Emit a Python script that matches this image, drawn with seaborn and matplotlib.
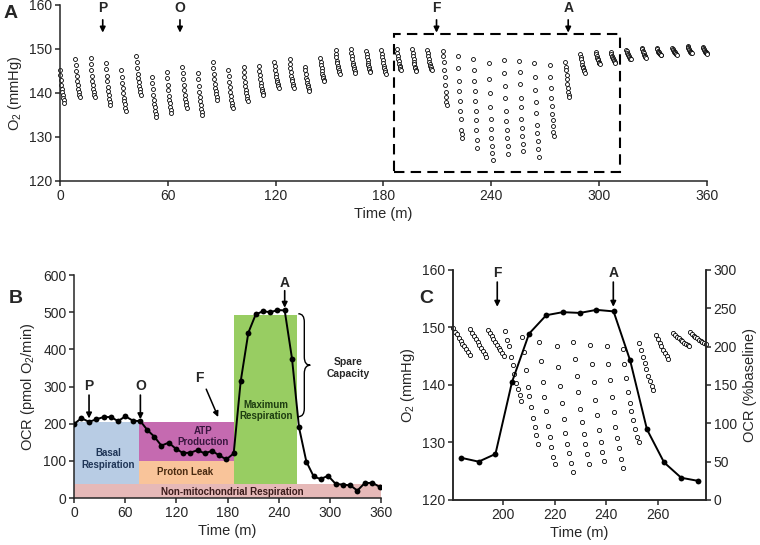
import matplotlib
matplotlib.use("Agg")
import matplotlib.pyplot as plt
from matplotlib.patches import Rectangle, PathPatch
from matplotlib.path import Path
import seaborn as sns
import pandas as pd

# ---------------- Panel A: O2 trace, one list per measurement cycle ----------------
a_cycle_start = [0.0, 8.5, 17.0, 25.6, 34.1, 42.6, 51.1, 59.6, 68.2, 76.7, 85.2,
                 93.7, 102.2, 110.8, 119.3, 127.8, 136.3, 144.8, 153.4, 161.9, 170.4,
                 178.9, 187.4, 196.0, 204.5, 213.0, 221.5, 230.0, 238.6, 247.1, 255.6,
                 264.1, 272.6, 281.2, 289.7, 298.2, 306.7, 315.2, 323.8, 332.3, 340.8,
                 349.3, 357.8]
a_offsets = [0, 0.25, 0.5, 0.8, 1.05, 1.3, 1.6, 1.85, 2.1, 2.4]
a_cycles = [
    [145.2, 144.0, 142.9, 141.9, 141.0, 140.2, 139.5, 138.9, 138.3, 137.8],
    [147.7, 146.3, 145.0, 143.8, 142.7, 141.8, 141.0, 140.3, 139.6, 139.0],
    [147.9, 146.5, 145.1, 143.9, 142.8, 141.8, 141.0, 140.3, 139.6, 139.0],
    [146.9, 145.4, 143.9, 142.6, 141.4, 140.4, 139.5, 138.7, 138.0, 137.3],
    [145.2, 143.7, 142.3, 141.1, 140.0, 138.9, 138.1, 137.4, 136.6, 136.0],
    [148.5, 147.1, 145.7, 144.4, 143.4, 142.4, 141.6, 140.8, 140.1, 139.5],
    [143.7, 142.2, 140.9, 139.6, 138.5, 137.5, 136.7, 136.0, 135.2, 134.6],
    [144.8, 143.3, 141.9, 140.6, 139.4, 138.4, 137.6, 136.8, 136.1, 135.4],
    [146.0, 144.5, 143.1, 141.7, 140.6, 139.5, 138.7, 137.9, 137.2, 136.5],
    [144.6, 143.1, 141.6, 140.3, 139.1, 138.1, 137.2, 136.4, 135.7, 135.0],
    [147.1, 145.7, 144.4, 143.2, 142.1, 141.2, 140.4, 139.7, 139.0, 138.4],
    [145.2, 143.8, 142.5, 141.3, 140.2, 139.3, 138.5, 137.8, 137.1, 136.5],
    [146.0, 144.8, 143.6, 142.5, 141.6, 140.7, 140.0, 139.4, 138.7, 138.2],
    [146.1, 145.0, 144.1, 143.1, 142.3, 141.6, 141.0, 140.5, 140.0, 139.5],
    [147.1, 146.1, 145.2, 144.4, 143.7, 143.0, 142.5, 142.0, 141.5, 141.1],
    [147.7, 146.6, 145.7, 144.7, 143.9, 143.2, 142.6, 142.1, 141.6, 141.1],
    [146.0, 145.1, 144.3, 143.5, 142.9, 142.3, 141.8, 141.3, 140.9, 140.5],
    [148.0, 147.1, 146.3, 145.6, 144.9, 144.3, 143.8, 143.4, 143.0, 142.6],
    [149.8, 148.9, 148.1, 147.3, 146.7, 146.1, 145.6, 145.1, 144.7, 144.3],
    [150.0, 149.1, 148.3, 147.6, 146.9, 146.3, 145.8, 145.4, 145.0, 144.6],
    [149.6, 148.8, 148.1, 147.4, 146.8, 146.3, 145.8, 145.4, 145.0, 144.7],
    [149.8, 148.9, 148.1, 147.4, 146.7, 146.1, 145.6, 145.2, 144.8, 144.4],
    [149.9, 149.1, 148.4, 147.7, 147.2, 146.6, 146.2, 145.8, 145.4, 145.1],
    [149.9, 149.1, 148.4, 147.7, 147.1, 146.5, 146.0, 145.6, 145.2, 144.9],
    [149.8, 149.0, 148.3, 147.7, 147.1, 146.6, 146.2, 145.8, 145.4, 145.1],
    [149.6, 148.3, 147.1, 145.2, 143.7, 141.8, 140.3, 139.0, 138.0, 137.3],
    [148.4, 145.6, 142.6, 140.5, 138.2, 136.0, 134.0, 131.6, 130.7, 129.7],
    [147.7, 145.2, 142.7, 140.5, 138.2, 136.0, 133.9, 131.6, 129.3, 127.4],
    [146.9, 143.1, 139.9, 136.7, 134.0, 131.8, 129.8, 128.0, 126.4, 124.8],
    [147.5, 144.6, 141.6, 138.9, 135.8, 133.6, 131.6, 129.7, 128.0, 126.1],
    [147.3, 144.7, 142.0, 138.9, 136.7, 134.0, 132.0, 130.1, 128.3, 126.7],
    [146.9, 143.7, 140.7, 137.9, 135.4, 132.7, 130.8, 129.1, 127.3, 125.5],
    [146.4, 143.7, 141.2, 138.8, 137.0, 135.2, 133.9, 132.5, 131.2, 130.1],
    [147.1, 146.0, 145.1, 144.1, 143.1, 142.0, 141.1, 140.3, 139.5, 139.0],
    [148.9, 148.2, 147.6, 147.0, 146.4, 146.0, 145.6, 145.2, 144.9, 144.6],
    [149.2, 148.8, 148.4, 148.0, 147.7, 147.4, 147.1, 146.9, 146.7, 146.5],
    [149.3, 148.9, 148.5, 148.2, 147.9, 147.6, 147.4, 147.2, 147.0, 146.8],
    [149.8, 149.5, 149.1, 148.9, 148.6, 148.4, 148.2, 148.0, 147.8, 147.7],
    [150.3, 149.9, 149.6, 149.3, 149.0, 148.7, 148.5, 148.3, 148.2, 148.0],
    [150.1, 149.9, 149.6, 149.4, 149.2, 149.1, 148.9, 148.8, 148.7, 148.6],
    [150.3, 150.0, 149.8, 149.6, 149.4, 149.2, 149.1, 148.9, 148.8, 148.7],
    [150.7, 150.4, 150.2, 149.9, 149.7, 149.5, 149.4, 149.2, 149.1, 149.0],
    [150.4, 150.2, 149.9, 149.7, 149.5, 149.4, 149.2, 149.1, 149.0, 148.9],
]
a_injections = ["P", "O", "F", "A"]
a_injection_time = [23.8, 66.8, 209.6, 282.9]
a_box = (185.9, 312.0, 122.1, 153.3)  # t0, t1, O2 low, O2 high

# ---------------- Panel B: OCR derived trace ----------------
b_time = [0, 8.6, 17.6, 26.2, 34.8, 43.4, 51.6, 60.2, 69.2, 77.8, 86.0, 94.2,
          102.4, 111.0, 119.2, 127.8, 136.4, 145.0, 153.2, 161.8, 170.0, 178.6,
          187.2, 195.4, 204.4, 213.0, 221.6, 230.2, 238.4, 247.0, 255.6, 263.8,
          272.4, 281.0, 289.2, 297.8, 306.8, 315.4, 324.0, 332.2, 340.8, 349.8, 358.4]
b_ocr = [199, 215, 205, 212, 218, 218, 207, 220, 208, 207, 183, 165, 141, 149,
         133, 121, 122, 129, 120, 127, 115, 104, 120, 314, 445, 494, 503, 500,
         506, 505, 375, 190, 98, 58, 51, 60, 38, 36, 34, 20, 40, 41, 30]
# label, t0, t1, ocr low, ocr high, fill, text colour, text t, text ocr
b_regions = [
    ("Non-mitochondrial Respiration", 0, 360, 0, 38, "#E6B9B8", "#3a1a1a", 186, 15),
    ("Basal\nRespiration", 0, 76, 38, 205, "#B8CCE4", "#1f3556", 40, 105),
    ("Proton Leak", 76, 188, 38, 100, "#F9C49A", "#4a2a10", 130, 69),
    ("ATP\nProduction", 76, 188, 100, 205, "#C56AB0", "#3a1640", 151, 165),
    ("Maximum\nRespiration", 188, 262, 38, 492, "#98CD62", "#1d3d10", 225, 235),
]
b_spare = (219, 496)

# ---------------- Panel C: zoom of F -> A ----------------
c_cycle_start = [181.0, 187.5, 194.3, 201.0, 207.5, 214.0, 220.8, 227.1, 233.7,
                 240.1, 246.3, 252.7, 259.2, 265.9, 272.3]
c_offsets = [0, 0.7, 1.4, 2.1, 2.8, 3.4, 4.1, 4.8, 5.5, 6.2]
c_cycles = [
    [149.9, 149.3, 148.8, 148.2, 147.7, 147.2, 146.7, 146.2, 145.7, 145.2],
    [149.7, 149.1, 148.6, 148.0, 147.5, 147.0, 146.4, 145.9, 145.4, 144.9],
    [149.6, 149.1, 148.5, 148.0, 147.5, 147.0, 146.5, 146.0, 145.6, 145.1],
    [149.4, 147.9, 146.7, 144.8, 143.4, 141.9, 140.3, 139.3, 138.3, 137.3],
    [148.3, 145.8, 142.6, 139.7, 138.0, 136.2, 134.2, 132.7, 131.3, 129.7],
    [147.5, 144.2, 140.6, 137.9, 135.4, 132.9, 130.9, 129.2, 127.5, 126.2],
    [146.8, 143.1, 139.8, 136.8, 134.0, 131.7, 129.8, 128.1, 126.5, 124.8],
    [147.4, 144.5, 141.5, 138.8, 135.8, 133.5, 131.5, 129.7, 128.0, 126.3],
    [146.9, 143.7, 140.6, 137.4, 134.8, 132.1, 130.0, 128.3, 126.7],
    [146.8, 143.7, 140.8, 137.9, 135.3, 132.7, 130.8, 129.0, 127.2, 125.6],
    [146.2, 143.6, 141.2, 138.7, 136.9, 135.4, 133.9, 132.3, 131.0, 130.0],
    [147.3, 146.0, 144.8, 143.8, 142.7, 141.6, 140.7, 139.8, 139.1],
    [148.7, 148.0, 147.3, 146.7, 146.1, 145.6, 145.1, 144.5],
    [149.0, 148.7, 148.4, 148.1, 147.8, 147.6, 147.3, 147.1, 146.9, 146.7],
    [149.2, 148.9, 148.6, 148.4, 148.1, 147.9, 147.7, 147.5, 147.3, 147.2],
]
c_ocr_time = [184.0, 190.7, 197.2, 203.6, 210.2, 216.8, 223.2, 229.8, 236.2,
              242.8, 249.2, 255.7, 262.3, 268.9, 275.3]
c_ocr_pct = [55, 50, 60, 154, 217, 241, 245, 244, 248, 246, 182, 92, 49, 29, 25]
c_injections = ["F", "A"]
c_injection_time = [197.9, 242.7]

# ---------------- style ----------------
sns.set_theme(style="ticks")
plt.rcParams["font.family"] = ["Liberation Sans", "DejaVu Sans"]
plt.rcParams["mathtext.fontset"] = "custom"
plt.rcParams["mathtext.rm"] = "Liberation Sans"
plt.rcParams["axes.linewidth"] = 1.1
TICK = 10
LABEL = 10.5


def long_form(starts, offsets, cycles):
    rows = []
    for t0, vals in zip(starts, cycles):
        for dt, v in zip(offsets, vals):
            rows.append((t0 + dt, v))
    return pd.DataFrame(rows, columns=["time", "o2"])


def style_axis(ax):
    ax.tick_params(direction="out", length=3.5, width=1.1, labelsize=TICK, pad=2)
    ax.grid(False)


def injection(ax, label, t, y_txt, y0, y1):
    ax.text(t, y_txt, label, ha="center", va="center", fontsize=10,
            fontweight="bold", clip_on=False)
    ax.annotate("", xy=(t, y1), xytext=(t, y0), annotation_clip=False,
                arrowprops=dict(arrowstyle="-|>", color="black", lw=1.2,
                                mutation_scale=8, shrinkA=0, shrinkB=0))


fig = plt.figure(figsize=(7.6, 5.45), dpi=100)

# ---- A ----
ax_a = fig.add_axes([0.0789, 0.668, 0.851, 0.323])
df_a = long_form(a_cycle_start, a_offsets, a_cycles)
sns.scatterplot(data=df_a, x="time", y="o2", ax=ax_a, marker="o", s=8,
                facecolor="white", edgecolor="black", linewidth=0.6, clip_on=False)
ax_a.set_xlim(0, 360)
ax_a.set_ylim(120, 160)
ax_a.set_xticks(range(0, 361, 60))
ax_a.set_yticks(range(120, 161, 10))
ax_a.set_xlabel("Time (m)", fontsize=LABEL, labelpad=3)
ax_a.set_ylabel(r"O$_\mathregular{2}$ (mmHg)", fontsize=LABEL, labelpad=4)
sns.despine(ax=ax_a)
style_axis(ax_a)
for lab, t in zip(a_injections, a_injection_time):
    injection(ax_a, lab, t, 159.4, 156.6, 153.7)
t0, t1, lo, hi = a_box
ax_a.add_patch(Rectangle((t0, lo), t1 - t0, hi - lo, fill=False, ec="black",
                         lw=1.5, ls=(0, (5, 3)), zorder=1))

# ---- B ----
ax_b = fig.add_axes([0.0974, 0.0862, 0.404, 0.409])
for lab, r0, r1, y0, y1, fc, tc, tx, ty in b_regions:
    ax_b.add_patch(Rectangle((r0, y0), r1 - r0, y1 - y0, fc=fc, ec="none", zorder=0))
    ax_b.text(tx, ty, lab, ha="center", va="center", fontsize=7, fontweight="bold",
              color=tc, linespacing=1.15, zorder=3)
df_b = pd.DataFrame({"time": b_time, "ocr": b_ocr})
sns.lineplot(data=df_b, x="time", y="ocr", ax=ax_b, color="black", lw=1.4,
             marker="o", markersize=4.2, markeredgewidth=0, estimator=None,
             sort=False, zorder=4)
ax_b.set_xlim(0, 360)
ax_b.set_ylim(0, 600)
ax_b.set_xticks(range(0, 361, 60))
ax_b.set_yticks(range(0, 601, 100))
ax_b.set_xlabel("Time (m)", fontsize=LABEL, labelpad=3)
ax_b.set_ylabel(r"OCR (pmol O$_\mathregular{2}$/min)", fontsize=LABEL, labelpad=4)
sns.despine(ax=ax_b)
style_axis(ax_b)
injection(ax_b, "P", 17.6, 302, 277, 214)
injection(ax_b, "O", 77.8, 302, 277, 212)
ax_b.text(147, 324, "F", ha="center", va="center", fontsize=10, fontweight="bold")
ax_b.annotate("", xy=(169, 218), xytext=(155, 293),
              arrowprops=dict(arrowstyle="-|>", color="black", lw=1.1,
                              mutation_scale=8, shrinkA=0, shrinkB=0))
injection(ax_b, "A", 247.0, 580, 558, 512)
# spare capacity brace
lo, hi = b_spare
mid = (lo + hi) / 2
x0, w, d = 263, 14, 22
verts = [(x0, hi), (x0 + w / 2, hi), (x0 + w / 2, hi - d),
         (x0 + w / 2, mid + d), (x0 + w / 2, mid), (x0 + w, mid),
         (x0 + w / 2, mid), (x0 + w / 2, mid - d),
         (x0 + w / 2, lo + d), (x0 + w / 2, lo), (x0, lo)]
codes = [Path.MOVETO, Path.CURVE3, Path.CURVE3, Path.LINETO, Path.CURVE3, Path.CURVE3,
         Path.CURVE3, Path.CURVE3, Path.LINETO, Path.CURVE3, Path.CURVE3]
ax_b.add_patch(PathPatch(Path(verts, codes), fill=False, lw=1.0, ec="black",
                         clip_on=False))
ax_b.text(321, 350, "Spare\nCapacity", ha="center", va="center", fontsize=7.5,
          fontweight="bold", linespacing=1.2, clip_on=False)

# ---- C ----
ax_c = fig.add_axes([0.596, 0.0826, 0.333, 0.422])
df_c = long_form(c_cycle_start, c_offsets, c_cycles)
sns.scatterplot(data=df_c, x="time", y="o2", ax=ax_c, marker="o", s=9,
                facecolor="white", edgecolor="black", linewidth=0.6, clip_on=False)
ax_c.set_xlim(180.8, 278.5)
ax_c.set_ylim(120, 160)
ax_c.set_xticks(range(200, 261, 20))
ax_c.set_yticks(range(120, 161, 10))
ax_c.set_ylabel(r"O$_\mathregular{2}$ (mmHg)", fontsize=LABEL, labelpad=4)
for lab, t in zip(c_injections, c_injection_time):
    injection(ax_c, lab, t, 159.4, 157.9, 153.6)
ax_c2 = ax_c.twinx()
df_c2 = pd.DataFrame({"time": c_ocr_time, "pct": c_ocr_pct})
sns.lineplot(data=df_c2, x="time", y="pct", ax=ax_c2, color="black", lw=1.4,
             marker="o", markersize=4.2, markeredgewidth=0, estimator=None, sort=False)
ax_c2.set_ylim(0, 300)
ax_c2.set_yticks(range(0, 301, 50))
ax_c2.set_ylabel("OCR (%baseline)", fontsize=LABEL, labelpad=4)
ax_c2.set_xlabel("")
for ax in (ax_c, ax_c2):
    ax.spines["top"].set_visible(False)
    style_axis(ax)
ax_c.set_xlabel("Time (m)", fontsize=LABEL, labelpad=3)

# panel letters
fig.text(0.004, 0.99, "A", fontsize=14, fontweight="bold", va="top")
fig.text(0.012, 0.468, "B", fontsize=14, fontweight="bold", va="top")
fig.text(0.552, 0.468, "C", fontsize=14, fontweight="bold", va="top")

fig.savefig("out.png", dpi=100)
